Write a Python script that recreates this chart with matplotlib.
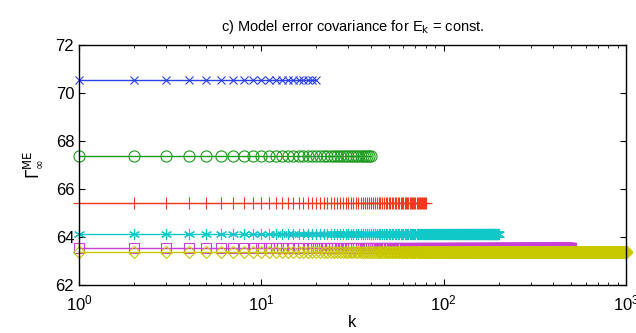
import matplotlib

matplotlib.use("Agg")
import matplotlib.pyplot as plt
import numpy as np

plt.rcParams["font.family"] = ["Liberation Sans", "DejaVu Sans"]

# ── data ────────────────────────────────────────────────────────────────
horizons = [20, 40, 80, 200, 500, 1000]
gamma_values = [70.55, 67.38, 65.42, 64.12, 63.55, 63.38]
markers = ["x", "o", "+", (6, 2, 0), "s", "D"]
colors = ["#2a40f0", "#1a9a1a", "#f03a1e", "#10c8c8", "#c840d8", "#c8c800"]
marker_sizes = [6, 8, 9, 8, 7, 6]

fig = plt.figure(figsize=(6.36, 3.33), dpi=100)
ax = fig.add_axes([79 / 636, 1 - 285 / 333, (626 - 79) / 636, (285 - 45) / 333])

for n, g, m, c, ms in zip(horizons, gamma_values, markers, colors, marker_sizes):
    k = np.arange(1, n + 1)
    y = np.full(k.shape, g)
    hollow = m in ("o", "s", "D")
    ax.plot(k, y, "-", color=c, lw=1.0, marker=m, ms=ms,
            markerfacecolor="none" if hollow else c,
            markeredgecolor=c, markeredgewidth=0.8, clip_on=False)

ax.set_xscale("log")
ax.set_xlim(1, 1000)
ax.set_ylim(62, 72)
ax.set_yticks([62, 64, 66, 68, 70, 72])
ax.tick_params(which="both", direction="in", top=True, right=True, labelsize=12)
ax.tick_params(axis="x", pad=6)
ax.tick_params(which="major", length=4)
ax.tick_params(which="minor", length=2)
for s in ax.spines.values():
    s.set_linewidth(1.0)

ax.set_xlabel("k", fontsize=12, labelpad=1)
ax.set_ylabel(r"$\Gamma_\infty^{\mathrm{ME}}$", fontsize=12, labelpad=8)
ax.set_title(r"c) Model error covariance for E$_\mathrm{k}$ = const.", fontsize=10.5, pad=10)

fig.savefig("out.png", dpi=100)
